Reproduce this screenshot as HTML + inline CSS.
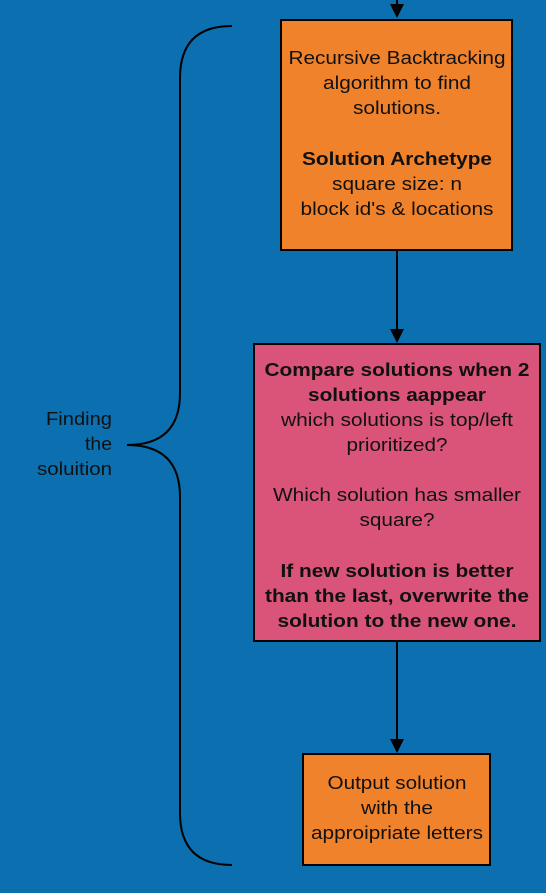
<!DOCTYPE html>
<html><head><meta charset="utf-8"><style>
html,body{margin:0;padding:0;background:#0c6fb0;}
svg{display:block}
text{font-family:"Liberation Sans",sans-serif;font-size:18.5px;fill:#111;text-anchor:middle}
.b{font-weight:bold}
</style></head><body>
<svg width="546" height="893" viewBox="0 0 546 893" xmlns="http://www.w3.org/2000/svg">
<rect width="546" height="893" fill="#0c6fb0"/>
<g stroke="#000" stroke-width="2" fill="none">
<line x1="397" y1="0" x2="397" y2="8"/>
<line x1="397" y1="251" x2="397" y2="330"/>
<line x1="397" y1="642" x2="397" y2="740"/>
<path d="M232 26 Q180 26 180 78 L180 393 Q180 445 127 445 Q180 445 180 497 L180 813 Q180 865 232 865"/>
</g>
<g fill="#000">
<polygon points="390,4 404,4 397,18"/>
<polygon points="390,329 404,329 397,343"/>
<polygon points="390,739 404,739 397,753"/>
</g>
<rect x="281" y="20" width="231" height="230" fill="#f0822c" stroke="#000" stroke-width="2"/>
<rect x="254" y="344" width="286" height="297" fill="#da5479" stroke="#000" stroke-width="2"/>
<rect x="303" y="754" width="187" height="111" fill="#f0822c" stroke="#000" stroke-width="2"/>
<g lengthAdjust="spacingAndGlyphs">
<text x="397" y="64" textLength="217" lengthAdjust="spacingAndGlyphs">Recursive Backtracking</text>
<text x="397" y="89" textLength="148" lengthAdjust="spacingAndGlyphs">algorithm to find</text>
<text x="397" y="114" textLength="88" lengthAdjust="spacingAndGlyphs">solutions.</text>
<text x="397" y="165" class="b" textLength="190" lengthAdjust="spacingAndGlyphs">Solution Archetype</text>
<text x="397" y="190" textLength="130" lengthAdjust="spacingAndGlyphs">square size: n</text>
<text x="397" y="215" textLength="193" lengthAdjust="spacingAndGlyphs">block id's &amp; locations</text>
<text x="397" y="376" class="b" textLength="265" lengthAdjust="spacingAndGlyphs">Compare solutions when 2</text>
<text x="397" y="401" class="b" textLength="178" lengthAdjust="spacingAndGlyphs">solutions aappear</text>
<text x="397" y="426" textLength="232" lengthAdjust="spacingAndGlyphs">which solutions is top/left</text>
<text x="397" y="451" textLength="101" lengthAdjust="spacingAndGlyphs">prioritized?</text>
<text x="397" y="501" textLength="248" lengthAdjust="spacingAndGlyphs">Which solution has smaller</text>
<text x="397" y="526" textLength="75" lengthAdjust="spacingAndGlyphs">square?</text>
<text x="397" y="577" class="b" textLength="233" lengthAdjust="spacingAndGlyphs">If new solution is better</text>
<text x="397" y="602" class="b" textLength="264" lengthAdjust="spacingAndGlyphs">than the last, overwrite the</text>
<text x="397" y="627" class="b" textLength="239" lengthAdjust="spacingAndGlyphs">solution to the new one.</text>
<text x="397" y="789" textLength="139" lengthAdjust="spacingAndGlyphs">Output solution</text>
<text x="397" y="814" textLength="72" lengthAdjust="spacingAndGlyphs">with the</text>
<text x="397" y="839" textLength="172" lengthAdjust="spacingAndGlyphs">approipriate letters</text>
<text x="112" y="425" style="text-anchor:end" textLength="66" lengthAdjust="spacingAndGlyphs">Finding</text>
<text x="112" y="450" style="text-anchor:end" textLength="27" lengthAdjust="spacingAndGlyphs">the</text>
<text x="112" y="475" style="text-anchor:end" textLength="75" lengthAdjust="spacingAndGlyphs">soluition</text>
</g>
</svg>
</body></html>
